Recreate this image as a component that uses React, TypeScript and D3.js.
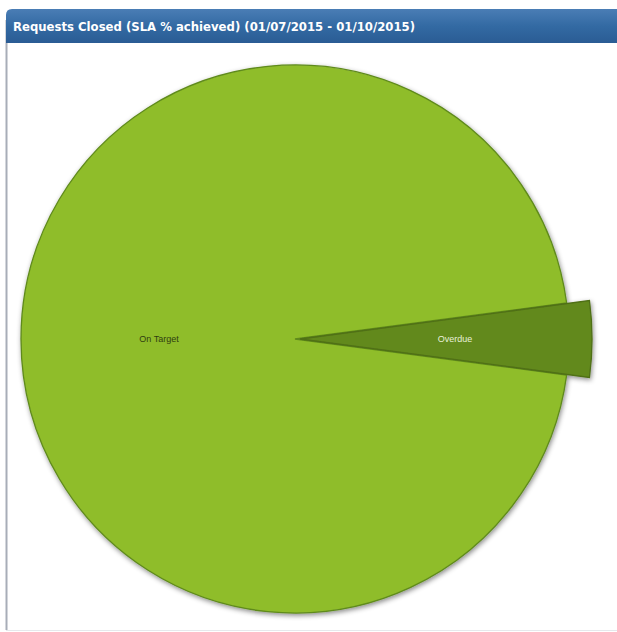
import React from "react";
import * as d3 from "d3";

const categories = ["On Target", "Overdue"];
const values = [95.8, 4.2];
const colors = ["#8fbd29", "#62891c"];
const labelColors = ["#2f3d10", "#e8f0d8"];
const title = "Requests Closed (SLA % achieved) (01/07/2015 - 01/10/2015)";

const W = 617;
const H = 632;

export default function App() {
  const cx = 295;
  const cy = 339;
  const r = 274;
  const overdueFrac = values[1] / d3.sum(values);
  const start = Math.PI / 2 - overdueFrac * Math.PI;
  const pie = d3
    .pie<number>()
    .sort(null)
    .startAngle(start - (1 - overdueFrac) * 2 * Math.PI)
    .endAngle(start + overdueFrac * 2 * Math.PI)
    .value((d) => d);
  const arcs = pie(values);
  const mainArc = d3.arc<d3.PieArcDatum<number>>().innerRadius(0).outerRadius(r);
  const bigArc = d3.arc<d3.PieArcDatum<number>>().innerRadius(0).outerRadius(r + 18);

  return (
    <div style={{ position: "absolute", left: 0, top: 0 }}>
      <svg width={W} height={H} style={{ display: "block" }}>
        <defs>
          <linearGradient id="tb" x1="0" y1="0" x2="0" y2="1">
            <stop offset="0" stopColor="#4a7db5" />
            <stop offset="0.5" stopColor="#336aa3" />
            <stop offset="1" stopColor="#2a5c94" />
          </linearGradient>
          <filter id="sh" x="-10%" y="-10%" width="120%" height="120%">
            <feDropShadow dx="1" dy="2" stdDeviation="2.5" floodColor="#000" floodOpacity="0.45" />
          </filter>
        </defs>
        <rect x={0} y={0} width={W} height={H} fill="#fff" />
        {/* panel frame */}
        <line x1={6.5} y1={20} x2={6.5} y2={630} stroke="#a8adb8" strokeWidth={2} />
        <line x1={6} y1={630.5} x2={W} y2={630.5} stroke="#e6e8ec" strokeWidth={1} />
        <path d={`M6,${43} L6,15 Q6,9 12,9 L${W},9 L${W},43 Z`} fill="url(#tb)" />
        <text
          x={13}
          y={31}
          fill="#ffffff"
          fontFamily="DejaVu Sans, Verdana, sans-serif"
          fontWeight="bold"
          fontSize={12}
          textLength={402}
          lengthAdjust="spacingAndGlyphs"
        >
          {title}
        </text>
        <g transform={`translate(${cx},${cy})`} filter="url(#sh)">
          {arcs.map((a, i) => {
            const mid = (a.startAngle + a.endAngle) / 2;
            const off = i === 1 ? 5 : 0;
            const dx = Math.sin(mid) * off;
            const dy = -Math.cos(mid) * off;
            const gen = i === 1 ? bigArc : mainArc;
            return (
              <path
                key={categories[i]}
                d={gen(a) || ""}
                transform={`translate(${dx},${dy})`}
                fill={colors[i]}
                stroke={i === 1 ? "#4f6f17" : "#5f8a1c"}
                strokeWidth={1.3}
              />
            );
          })}
        </g>
        <g transform={`translate(${cx},${cy})`}>
          {arcs.map((a, i) => {
            const mid = (a.startAngle + a.endAngle) / 2;
            const rr = i === 1 ? 160 : 136;
            return (
              <text
                key={categories[i]}
                x={Math.sin(mid) * rr}
                y={-Math.cos(mid) * rr}
                dy="0.35em"
                textAnchor="middle"
                fontFamily="Arial, Liberation Sans, sans-serif"
                fontSize={9}
                fill={labelColors[i]}
              >
                {categories[i]}
              </text>
            );
          })}
        </g>
      </svg>
    </div>
  );
}
